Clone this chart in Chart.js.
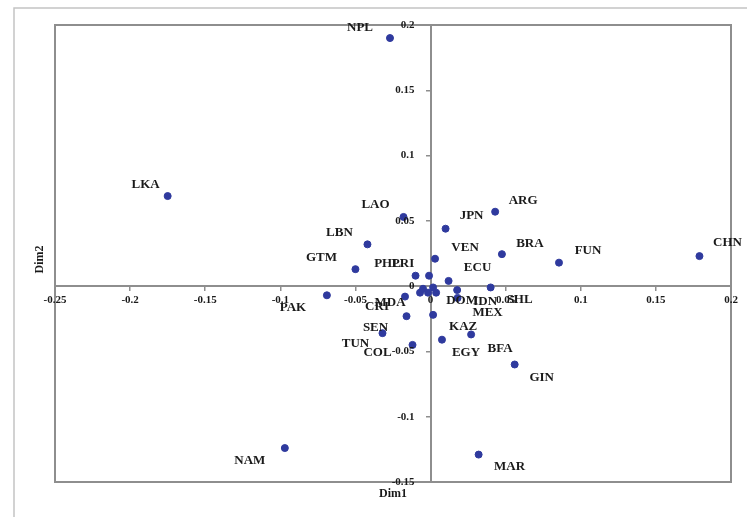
<!DOCTYPE html>
<html>
<head>
<meta charset="utf-8">
<script src="https://cdn.jsdelivr.net/npm/chart.js@4/dist/chart.umd.min.js"></script>
<style>
  html, body { margin: 0; padding: 0; background: #fff; }
  #wrap { width: 747px; height: 517px; }
</style>
</head>
<body>
<div id="wrap"><canvas id="chart" width="747" height="517"></canvas></div>
<script>
// Data (Dim1 / Dim2 coordinates)
const countries = ['NPL', 'LKA', 'CHN', 'FUN', 'ARG', 'JPN', 'BRA', 'VEN', 'ECU', 'LAO', 'LBN', 'GTM',
  'PAK', 'NAM', 'MAR', 'GIN', 'KAZ', 'BFA', 'EGY', 'SEN', 'TUN', 'COL', 'PHL', 'PRI', 'DOM', 'IDN',
  'SHL', 'MEX', 'MDA', 'CRI', '', '', ''];
const dim1 = [-0.027, -0.175, 0.179, 0.0855, 0.043, 0.010, 0.0475, 0.003, 0.012, -0.018, -0.042, -0.050,
  -0.069, -0.097, 0.032, 0.056, 0.0017, 0.027, 0.0076, -0.016, -0.032, -0.012, -0.010, -0.001, 0.0017, 0.0177,
  0.040, 0.018, -0.007, -0.017, -0.005, -0.0017, 0.0037];
const dim2 = [0.190, 0.069, 0.023, 0.018, 0.057, 0.044, 0.0245, 0.021, 0.004, 0.053, 0.032, 0.013,
  -0.007, -0.124, -0.129, -0.060, -0.022, -0.037, -0.041, -0.023, -0.036, -0.045, 0.008, 0.008, -0.001, -0.003,
  -0.001, -0.009, -0.005, -0.008, -0.002, -0.005, -0.005];

const xTicks = [-0.25, -0.2, -0.15, -0.1, -0.05, 0, 0.05, 0.1, 0.15, 0.2];
const xTickLabels = ['-0.25', '-0.2', '-0.15', '-0.1', '-0.05', '0', '0.05', '0.1', '0.15', '0.2'];
const yTicks = [0.2, 0.15, 0.1, 0.05, 0, -0.05, -0.1, -0.15];
const yTickLabels = ['0.2', '0.15', '0.1', '0.05', '0', '-0.05', '-0.1', '-0.15'];

// where each country name sits relative to its dot (layout only)
const labelOffsets = [[-30, -10], [-22, -11], [28, -13], [29, -12], [28, -11], [26, -13], [28, -11], [30, -11],
  [29, -13], [-28, -12], [-28, -12], [-34, -12], [-34, 12], [-35, 13], [31, 12], [27, 13], [30, 12], [29, 14],
  [24, 13], [-31, 11], [-27, 10], [-35, 8], [-28, -12], [-26, -12], [29, 13], [28, 12], [29, 12], [30, 15],
  [-30, 10], [-28, 10], [0, 0], [0, 0], [0, 0]];

const serif = '"Liberation Serif", "DejaVu Serif", serif';
const axisGrey = '#8e8e8e';

const points = dim1.map((x, i) => ({ x: x, y: dim2[i] }));

// frame, tick labels, titles and point names
const decorations = {
  id: 'decorations',
  beforeDraw(chart) {
    const ctx = chart.ctx;
    const a = chart.chartArea;
    ctx.save();
    ctx.fillStyle = '#fff';
    ctx.fillRect(0, 0, chart.width, chart.height);
    // outer frame (only top and left visible)
    ctx.strokeStyle = '#c4c4c4';
    ctx.lineWidth = 1.5;
    ctx.beginPath();
    ctx.moveTo(14, chart.height);
    ctx.lineTo(14, 8);
    ctx.lineTo(chart.width, 8);
    ctx.stroke();
    // plot frame
    ctx.strokeStyle = axisGrey;
    ctx.lineWidth = 2;
    ctx.strokeRect(a.left, a.top, a.right - a.left, a.bottom - a.top);
    ctx.restore();
  },
  afterDatasetsDraw(chart) {
    const ctx = chart.ctx;
    const xs = chart.scales.x;
    const ys = chart.scales.y;
    ctx.save();
    ctx.fillStyle = '#1a1a1a';
    ctx.font = 'bold 13px ' + serif;
    ctx.textAlign = 'center';
    ctx.textBaseline = 'middle';
    countries.forEach((name, i) => {
      if (!name) return;
      const px = xs.getPixelForValue(dim1[i]);
      const py = ys.getPixelForValue(dim2[i]);
      ctx.fillText(name, px + labelOffsets[i][0], py + labelOffsets[i][1]);
    });

    // tick labels
    ctx.font = 'bold 11px ' + serif;
    const y0 = ys.getPixelForValue(0);
    const x0 = xs.getPixelForValue(0);
    ctx.textAlign = 'center';
    ctx.textBaseline = 'top';
    xTicks.forEach((v, i) => {
      ctx.fillText(xTickLabels[i], xs.getPixelForValue(v), y0 + 9);
    });
    ctx.textAlign = 'right';
    ctx.textBaseline = 'middle';
    yTicks.forEach((v, i) => {
      ctx.fillText(yTickLabels[i], x0 - 16, ys.getPixelForValue(v));
    });

    // axis titles
    const a = chart.chartArea;
    ctx.font = 'bold 12px ' + serif;
    ctx.textAlign = 'center';
    ctx.fillText('Dim1', (a.left + a.right) / 2, a.bottom + 12);
    ctx.translate(a.left - 15, (a.top + a.bottom) / 2 + 6);
    ctx.rotate(-Math.PI / 2);
    ctx.fillText('Dim2', 0, 0);
    ctx.restore();
  }
};

new Chart(document.getElementById('chart'), {
  type: 'scatter',
  data: {
    datasets: [{
      data: points,
      backgroundColor: '#2f3a9e',
      borderColor: '#2f3a9e',
      pointRadius: 3.5,
      pointHoverRadius: 3.5
    }]
  },
  options: {
    responsive: false,
    devicePixelRatio: 1,
    animation: false,
    layout: { padding: { left: 55, top: 25, right: 16, bottom: 35 } },
    plugins: { legend: { display: false }, tooltip: { enabled: false } },
    scales: {
      x: {
        type: 'linear',
        min: -0.25,
        max: 0.2,
        position: { y: 0 },
        afterBuildTicks: s => { s.ticks = xTicks.map(v => ({ value: v })); },
        ticks: { display: false },
        border: { color: axisGrey, width: 2 },
        grid: { drawOnChartArea: false, drawTicks: true, tickLength: 4, color: axisGrey, lineWidth: 1.5 }
      },
      y: {
        type: 'linear',
        min: -0.15,
        max: 0.2,
        position: { x: 0 },
        afterBuildTicks: s => { s.ticks = yTicks.map(v => ({ value: v })); },
        ticks: { display: false },
        border: { color: axisGrey, width: 2 },
        grid: { drawOnChartArea: false, drawTicks: true, tickLength: 4, color: axisGrey, lineWidth: 1.5 }
      }
    }
  },
  plugins: [decorations]
});
</script>
</body>
</html>
